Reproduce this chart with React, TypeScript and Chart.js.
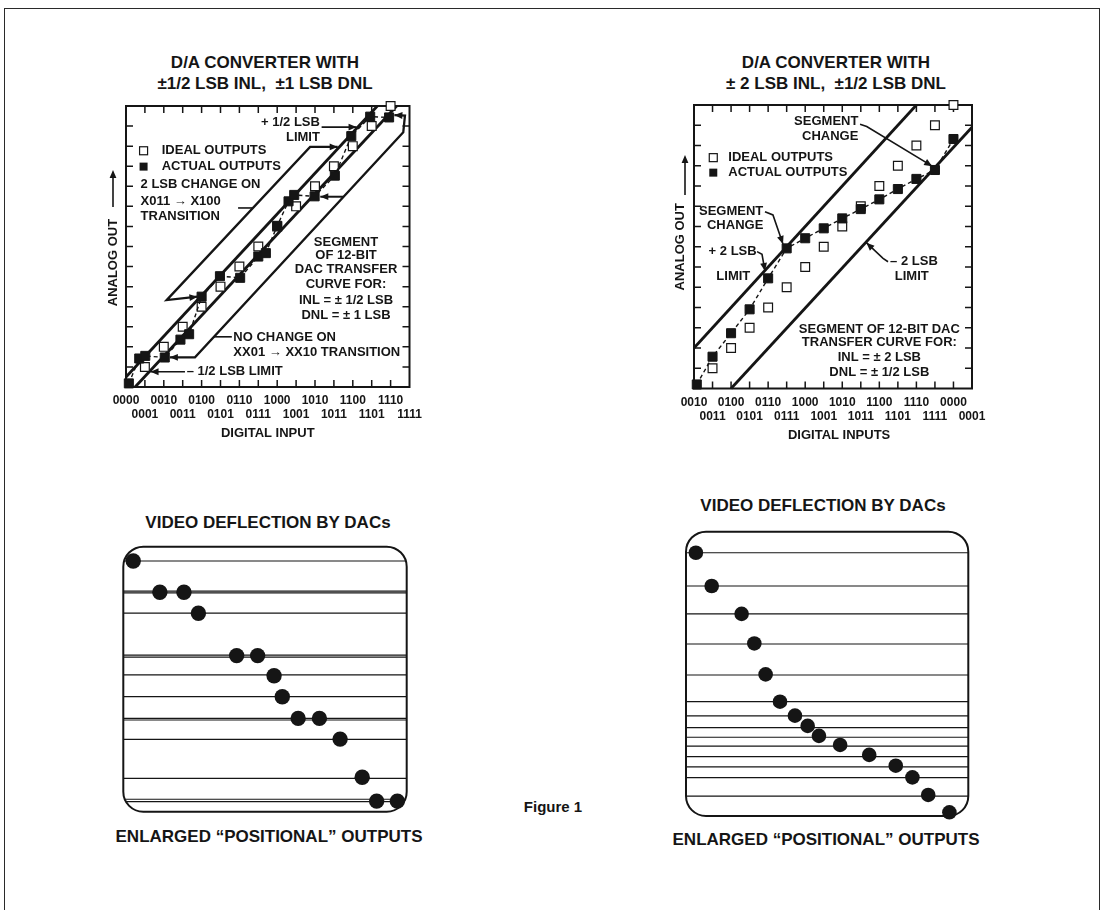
import React, { useEffect, useRef } from "react";
import { Chart, registerables } from "chart.js";

Chart.register(...registerables);

const W = 1106;
const H = 910;
const FONT = '"Liberation Sans", Arial, Helvetica, sans-serif';
const INK = "#151515";

// ===== Panel A: D/A converter with ±1/2 LSB INL, ±1 LSB DNL =====
const aCodeLabels = ["0000", "0001", "0010", "0011", "0100", "0101", "0110", "0111", "1000", "1001", "1010", "1011", "1100", "1101", "1110", "1111"];
const aIdealCodes = [1, 2, 3, 4, 5, 6, 7, 8, 9, 10, 11, 12, 13, 14];
const aIdealOut = [1, 2, 3, 4, 5, 6, 7, 8, 9, 10, 11, 12, 13, 14];
const aActualCodes = [0.15, 0.7, 1.02, 2.05, 2.88, 3.34, 4.0, 4.97, 6.04, 7.0, 7.4, 8.0, 8.6, 8.9, 9.98, 11.05, 11.92, 12.92, 13.92];
const aActualOut = [0.18, 1.42, 1.55, 1.47, 2.36, 2.63, 4.5, 5.52, 5.44, 6.5, 6.67, 8.03, 9.25, 9.57, 9.5, 10.53, 12.5, 13.47, 13.43];
const aPlusLimitCodes = [0, 13.3];
const aPlusLimitOut = [0.5, 14];
const aMinusLimitCodes = [0.48, 14.32];
const aMinusLimitOut = [0, 14];
const aTwoLsbCodes = [3.78, 2.15, 9.74, 11.2];
const aTwoLsbOut = [4.5, 4.33, 11.96, 11.96];
const aNoChangeCodes = [2.32, 3.65, 14.67, 14.76, 14.2];
const aNoChangeOut = [1.48, 1.48, 12.69, 13.52, 13.55];

// ===== Panel B: D/A converter with ±2 LSB INL, ±1/2 LSB DNL =====
const bCodeLabels = ["0010", "0011", "0100", "0101", "0110", "0111", "1000", "1001", "1010", "1011", "1100", "1101", "1110", "1111", "0000", "0001"];
const bIdealCodes = [3, 4, 5, 6, 7, 8, 9, 10, 11, 12, 13, 14, 15, 16];
const bIdealOut = [1, 2, 3, 4, 5, 6, 7, 8, 9, 10, 11, 12, 13, 14];
const bActualCodes = [2.15, 3, 4, 5, 6, 7, 8, 9, 10, 11, 12, 13, 14, 15, 16];
const bActualOut = [0.2, 1.57, 2.73, 3.91, 5.44, 6.92, 7.42, 7.91, 8.4, 8.86, 9.34, 9.85, 10.35, 10.79, 12.32];
const bPlusLimitCodes = [2, 14];
const bPlusLimitOut = [2, 14];
const bMinusLimitCodes = [4, 17];
const bMinusLimitOut = [0, 12.9];

// ===== Panel C / D: video deflection (percent of screen width / height) =====
const cBallX = [3.5, 12.9, 21.4, 26.5, 40.0, 47.4, 53.2, 56.1, 61.7, 69.2, 76.5, 84.3, 89.4, 96.7];
const cBallY = [94.6, 82.8, 82.8, 74.9, 58.9, 58.9, 51.3, 43.4, 35.2, 35.2, 27.4, 13.0, 4.0, 4.0];
const cScanLines = [94.6, 83.2, 82.6, 74.9, 59.1, 58.3, 51.6, 43.4, 35.2, 34.6, 27.3, 12.6, 4.7, 3.8];
const dBallX = [3.5, 9.1, 19.7, 24.2, 28.2, 33.3, 38.6, 43.1, 47.1, 54.6, 64.9, 74.3, 80.2, 85.8, 93.3];
const dBallY = [92.6, 80.9, 71.1, 60.7, 49.8, 40.2, 35.3, 31.7, 28.2, 25.0, 21.5, 17.7, 13.6, 7.4, 1.3];
const dScanLines = [92.6, 80.9, 71.1, 60.5, 49.6, 40.2, 35.2, 31.1, 27.7, 24.6, 20.9, 17.3, 13.5, 7.0];

type Note = { t: string; x: number; y: number; a?: CanvasTextAlign };
type Lead = { xs: number[]; ys: number[]; head?: boolean; w?: number };

const aNotes: Note[] = [
  { t: "+ 1/2 LSB", x: 10.26, y: 13.18, a: "right" },
  { t: "LIMIT", x: 10.26, y: 12.44, a: "right" },
  { t: "IDEAL OUTPUTS", x: 1.89, y: 11.77 },
  { t: "ACTUAL OUTPUTS", x: 1.89, y: 10.98 },
  { t: "2 LSB CHANGE ON", x: 0.77, y: 10.11 },
  { t: "X011 → X100", x: 0.77, y: 9.27 },
  { t: "TRANSITION", x: 0.77, y: 8.52 },
  { t: "SEGMENT", x: 11.64, y: 7.22, a: "center" },
  { t: "OF 12-BIT", x: 11.64, y: 6.55, a: "center" },
  { t: "DAC TRANSFER", x: 11.64, y: 5.88, a: "center" },
  { t: "CURVE FOR:", x: 11.64, y: 5.11, a: "center" },
  { t: "INL = ± 1/2 LSB", x: 11.64, y: 4.33, a: "center" },
  { t: "DNL = ± 1 LSB", x: 11.64, y: 3.59, a: "center" },
  { t: "NO CHANGE ON", x: 5.68, y: 2.48 },
  { t: "XX01 → XX10 TRANSITION", x: 5.68, y: 1.74 },
  { t: "– 1/2 LSB LIMIT", x: 3.21, y: 0.76 },
];
const aLeads: Lead[] = [
  { xs: [10.35, 12.2], ys: [12.95, 12.95], head: true, w: 1.6 },
  { xs: [3.12, 1.3], ys: [0.76, 0.76], head: true, w: 1.6 },
  { xs: [5.93, 6.72], ys: [8.92, 8.92], w: 1.6 },
  { xs: [4.65, 5.6], ys: [2.5, 2.5], w: 1.6 },
  { xs: [11.51, 10.28], ys: [9.48, 9.48], head: true, w: 2 },
];

const bNotes: Note[] = [
  { t: "IDEAL OUTPUTS", x: 3.85, y: 11.4 },
  { t: "ACTUAL OUTPUTS", x: 3.85, y: 10.66 },
  { t: "SEGMENT", x: 10.87, y: 13.18, a: "right" },
  { t: "CHANGE", x: 10.87, y: 12.43, a: "right" },
  { t: "SEGMENT", x: 5.74, y: 8.73, a: "right" },
  { t: "CHANGE", x: 5.74, y: 8.04, a: "right" },
  { t: "+ 2 LSB", x: 5.38, y: 6.76, a: "right" },
  { t: "LIMIT", x: 4.12, y: 5.52, a: "center" },
  { t: "– 2 LSB", x: 12.58, y: 6.26 },
  { t: "LIMIT", x: 13.75, y: 5.52, a: "center" },
  { t: "SEGMENT OF 12-BIT DAC", x: 12.0, y: 2.92, a: "center" },
  { t: "TRANSFER CURVE FOR:", x: 12.0, y: 2.26, a: "center" },
  { t: "INL = ± 2 LSB", x: 12.0, y: 1.52, a: "center" },
  { t: "DNL = ± 1/2 LSB", x: 12.0, y: 0.8, a: "center" },
];
const bLeads: Lead[] = [
  { xs: [10.96, 11.32, 14.85], ys: [13.05, 12.94, 10.98], head: true, w: 1.6 },
  { xs: [5.83, 6.26, 6.8], ys: [8.73, 8.57, 7.14], head: true, w: 1.6 },
  { xs: [5.4, 5.67, 5.83], ys: [6.76, 6.63, 5.8], head: true, w: 1.6 },
  { xs: [12.47, 12.2, 11.3], ys: [6.26, 6.43, 7.2], head: true, w: 1.6 },
];

type Panel = {
  area: { l: number; t: number; r: number; b: number };
  xMin: number;
  xMax: number;
  yMax: number;
  labels: string[];
  notes: Note[];
  leads: Lead[];
  legendX: number;
  legendY: [number, number];
  yTitle: { dx: number; y: number; arrowDx: number; arrowFrom: number; arrowTo: number };
  xTitle: { t: string; x: number; dy: number };
  datasets: any[];
  bracketHeads: { xs: number[]; ys: number[]; start: boolean; end: boolean }[];
};

const pts = (xs: number[], ys: number[]) => xs.map((x, i) => ({ x, y: ys[i] }));

function lineDs(xs: number[], ys: number[], w: number) {
  return {
    data: pts(xs, ys),
    showLine: true,
    pointRadius: 0,
    borderColor: INK,
    borderWidth: w,
    fill: false,
    tension: 0,
    clip: false,
  };
}

function actualDs(xs: number[], ys: number[]) {
  return {
    data: pts(xs, ys),
    showLine: true,
    borderDash: [4, 3],
    borderColor: INK,
    borderWidth: 1.4,
    pointStyle: "rect",
    pointRadius: 6.4,
    pointBackgroundColor: INK,
    pointBorderColor: INK,
    pointBorderWidth: 1,
    clip: false,
  };
}

function idealDs(xs: number[], ys: number[]) {
  return {
    data: pts(xs, ys),
    showLine: false,
    pointStyle: "rect",
    pointRadius: 6.2,
    pointBackgroundColor: "#ffffff",
    pointBorderColor: INK,
    pointBorderWidth: 1.2,
    clip: false,
  };
}

function head(ctx: CanvasRenderingContext2D, x0: number, y0: number, x1: number, y1: number) {
  const a = Math.atan2(y1 - y0, x1 - x0);
  const len = 8;
  const half = 3.4;
  ctx.beginPath();
  ctx.moveTo(x1, y1);
  ctx.lineTo(x1 - len * Math.cos(a) + half * Math.sin(a), y1 - len * Math.sin(a) - half * Math.cos(a));
  ctx.lineTo(x1 - len * Math.cos(a) - half * Math.sin(a), y1 - len * Math.sin(a) + half * Math.cos(a));
  ctx.closePath();
  ctx.fill();
}

function text(ctx: CanvasRenderingContext2D, s: string, x: number, y: number, align: CanvasTextAlign = "left", size = 13) {
  ctx.font = `bold ${size}px ${FONT}`;
  ctx.textAlign = align;
  ctx.textBaseline = "middle";
  ctx.fillStyle = INK;
  ctx.fillText(s, x, y);
}

function dacDecor(p: Panel) {
  return {
    id: "dacDecor",
    beforeDatasetsDraw(chart: any) {
      const { ctx, chartArea: a } = chart;
      const xs = chart.scales.x;
      const ys = chart.scales.y;
      ctx.save();
      ctx.strokeStyle = INK;
      ctx.lineWidth = 2;
      ctx.strokeRect(a.left, a.top, a.right - a.left, a.bottom - a.top);
      ctx.lineWidth = 1.5;
      const tl = 7;
      for (let v = p.xMin + 1; v < p.xMax; v++) {
        const x = xs.getPixelForValue(v);
        ctx.beginPath();
        ctx.moveTo(x, a.top);
        ctx.lineTo(x, a.top + tl);
        ctx.moveTo(x, a.bottom);
        ctx.lineTo(x, a.bottom - tl);
        ctx.stroke();
      }
      for (let v = 1; v < p.yMax; v++) {
        const y = ys.getPixelForValue(v);
        ctx.beginPath();
        ctx.moveTo(a.left, y);
        ctx.lineTo(a.left + tl, y);
        ctx.moveTo(a.right, y);
        ctx.lineTo(a.right - tl, y);
        ctx.stroke();
      }
      ctx.restore();
    },
    afterDatasetsDraw(chart: any) {
      const { ctx, chartArea: a } = chart;
      const xs = chart.scales.x;
      const ys = chart.scales.y;
      const X = (v: number) => xs.getPixelForValue(v);
      const Y = (v: number) => ys.getPixelForValue(v);
      ctx.save();
      ctx.fillStyle = INK;
      ctx.strokeStyle = INK;
      // bracket arrow heads
      for (const b of p.bracketHeads) {
        const n = b.xs.length;
        if (b.start) head(ctx, X(b.xs[1]), Y(b.ys[1]), X(b.xs[0]), Y(b.ys[0]));
        if (b.end) head(ctx, X(b.xs[n - 2]), Y(b.ys[n - 2]), X(b.xs[n - 1]), Y(b.ys[n - 1]));
      }
      // leader lines
      for (const l of p.leads) {
        ctx.lineWidth = l.w || 1.5;
        ctx.beginPath();
        l.xs.forEach((x, i) => (i === 0 ? ctx.moveTo(X(x), Y(l.ys[i])) : ctx.lineTo(X(x), Y(l.ys[i]))));
        ctx.stroke();
        const n = l.xs.length;
        if (l.head) head(ctx, X(l.xs[n - 2]), Y(l.ys[n - 2]), X(l.xs[n - 1]), Y(l.ys[n - 1]));
      }
      // legend squares
      const s = 8;
      const lx = X(p.legendX);
      const ly0 = Y(p.legendY[0]);
      const ly1 = Y(p.legendY[1]);
      ctx.fillStyle = "#fff";
      ctx.fillRect(lx - s / 2, ly0 - s / 2, s, s);
      ctx.lineWidth = 1.2;
      ctx.strokeRect(lx - s / 2, ly0 - s / 2, s, s);
      ctx.fillStyle = INK;
      ctx.fillRect(lx - s / 2, ly1 - s / 2, s, s);
      // notes
      for (const n of p.notes) text(ctx, n.t, X(n.x), Y(n.y), n.a || "left", 13);
      // tick labels, two staggered rows
      p.labels.forEach((lab, i) => {
        text(ctx, lab, X(p.xMin + i), a.bottom + (i % 2 === 0 ? 14 : 28), "center", 12);
      });
      // axis titles
      text(ctx, p.xTitle.t, X(p.xTitle.x), a.bottom + p.xTitle.dy, "center", 13);
      ctx.save();
      ctx.translate(a.left + p.yTitle.dx, Y(p.yTitle.y));
      ctx.rotate(-Math.PI / 2);
      text(ctx, "ANALOG OUT", 0, 0, "center", 13);
      ctx.restore();
      const ax = a.left + p.yTitle.arrowDx;
      ctx.lineWidth = 1.6;
      ctx.beginPath();
      ctx.moveTo(ax, Y(p.yTitle.arrowFrom));
      ctx.lineTo(ax, Y(p.yTitle.arrowTo) + 4);
      ctx.stroke();
      head(ctx, ax, Y(p.yTitle.arrowFrom), ax, Y(p.yTitle.arrowTo));
      ctx.restore();
    },
  };
}

function dacConfig(p: Panel) {
  return {
    type: "scatter",
    data: { datasets: p.datasets },
    options: {
      animation: false,
      responsive: false,
      devicePixelRatio: 1,
      events: [],
      layout: { padding: { left: p.area.l, top: p.area.t, right: W - p.area.r, bottom: H - p.area.b } },
      scales: {
        x: { type: "linear", min: p.xMin, max: p.xMax, display: false },
        y: { type: "linear", min: 0, max: p.yMax, display: false },
      },
      plugins: { legend: { display: false }, tooltip: { enabled: false } },
    },
    plugins: [dacDecor(p)],
  };
}

const panelA: Panel = {
  area: { l: 126, t: 106, r: 409.5, b: 387 },
  xMin: 0,
  xMax: 15,
  yMax: 14,
  labels: aCodeLabels,
  notes: aNotes,
  leads: aLeads,
  legendX: 0.93,
  legendY: [11.77, 10.98],
  yTitle: { dx: -13, y: 6.2, arrowDx: -13, arrowFrom: 8.97, arrowTo: 10.81 },
  xTitle: { t: "DIGITAL INPUT", x: 7.5, dy: 46 },
  datasets: [
    actualDs(aActualCodes, aActualOut),
    idealDs(aIdealCodes, aIdealOut),
    lineDs(aPlusLimitCodes, aPlusLimitOut, 2.8),
    lineDs(aMinusLimitCodes, aMinusLimitOut, 2.8),
    lineDs(aTwoLsbCodes, aTwoLsbOut, 2.3),
    lineDs(aNoChangeCodes, aNoChangeOut, 2.3),
  ],
  bracketHeads: [
    { xs: aTwoLsbCodes, ys: aTwoLsbOut, start: true, end: true },
    { xs: aNoChangeCodes, ys: aNoChangeOut, start: true, end: true },
  ],
};

const panelB: Panel = {
  area: { l: 694, t: 105, r: 972, b: 388.5 },
  xMin: 2,
  xMax: 17,
  yMax: 14,
  labels: bCodeLabels,
  notes: bNotes,
  leads: bLeads,
  legendX: 3.04,
  legendY: [11.4, 10.66],
  yTitle: { dx: -14, y: 7.0, arrowDx: -9, arrowFrom: 9.56, arrowTo: 11.53 },
  xTitle: { t: "DIGITAL INPUTS", x: 9.83, dy: 46.5 },
  datasets: [
    actualDs(bActualCodes, bActualOut),
    idealDs(bIdealCodes, bIdealOut),
    lineDs(bPlusLimitCodes, bPlusLimitOut, 2.8),
    lineDs(bMinusLimitCodes, bMinusLimitOut, 2.8),
  ],
  bracketHeads: [],
};

function boxDecor(lines: number[]) {
  return {
    id: "boxDecor",
    beforeDatasetsDraw(chart: any) {
      const { ctx, chartArea: a } = chart;
      const xs = chart.scales.x;
      const ys = chart.scales.y;
      const r = 20;
      ctx.save();
      ctx.beginPath();
      ctx.roundRect(a.left, a.top, a.right - a.left, a.bottom - a.top, r);
      ctx.save();
      ctx.clip();
      ctx.strokeStyle = INK;
      ctx.lineWidth = 1.2;
      for (const v of lines) {
        const y = ys.getPixelForValue(v);
        ctx.beginPath();
        ctx.moveTo(xs.getPixelForValue(xs.min), y);
        ctx.lineTo(xs.getPixelForValue(xs.max), y);
        ctx.stroke();
      }
      ctx.restore();
      ctx.beginPath();
      ctx.roundRect(a.left, a.top, a.right - a.left, a.bottom - a.top, r);
      ctx.strokeStyle = INK;
      ctx.lineWidth = 2;
      ctx.stroke();
      ctx.restore();
    },
  };
}

function boxConfig(area: { l: number; t: number; r: number; b: number }, bx: number[], by: number[], lines: number[], radius: number) {
  return {
    type: "scatter",
    data: {
      datasets: [
        {
          data: pts(bx, by),
          pointStyle: "circle",
          pointRadius: radius,
          pointBackgroundColor: INK,
          pointBorderColor: INK,
          pointBorderWidth: 0,
          clip: false,
        },
      ],
    },
    options: {
      animation: false,
      responsive: false,
      devicePixelRatio: 1,
      events: [],
      layout: { padding: { left: area.l, top: area.t, right: W - area.r, bottom: H - area.b } },
      scales: {
        x: { type: "linear", min: 0, max: 100, display: false },
        y: { type: "linear", min: 0, max: 100, display: false },
      },
      plugins: { legend: { display: false }, tooltip: { enabled: false } },
    },
    plugins: [boxDecor(lines)],
  };
}

function ChartCanvas({ make }: { make: () => any }) {
  const ref = useRef<HTMLCanvasElement>(null);
  useEffect(() => {
    const chart = new Chart(ref.current as HTMLCanvasElement, make());
    return () => chart.destroy();
  }, []);
  return (
    <canvas
      ref={ref}
      width={W}
      height={H}
      style={{ position: "absolute", left: 0, top: 0, width: W, height: H, display: "block" }}
    />
  );
}

function Label({ x, y, size, children }: { x: number; y: number; size: number; children: React.ReactNode }) {
  return (
    <div
      style={{
        position: "absolute",
        left: x,
        top: y,
        transform: "translate(-50%, -50%)",
        fontFamily: FONT,
        fontWeight: 700,
        fontSize: size,
        lineHeight: 1,
        whiteSpace: "pre",
        color: INK,
      }}
    >
      {children}
    </div>
  );
}

export default function App() {
  return (
    <div
      style={{
        position: "absolute",
        left: 0,
        top: 0,
        width: W,
        height: H,
        overflow: "hidden",
        background: "#fff",
      }}
    >
      <div
        style={{
          position: "absolute",
          left: 4,
          top: 8,
          width: 1096,
          height: 940,
          border: "1.5px solid #2a2a2a",
          boxSizing: "border-box",
        }}
      />
      <Label x={265} y={62} size={17}>D/A CONVERTER WITH</Label>
      <Label x={265} y={83} size={17}>±1/2 LSB INL,  ±1 LSB DNL</Label>
      <Label x={836} y={62} size={17}>D/A CONVERTER WITH</Label>
      <Label x={836} y={83} size={17}>± 2 LSB INL,  ±1/2 LSB DNL</Label>
      <Label x={268} y={522} size={17}>VIDEO DEFLECTION BY DACs</Label>
      <Label x={823} y={505} size={17}>VIDEO DEFLECTION BY DACs</Label>
      <Label x={269} y={836} size={17}>ENLARGED “POSITIONAL” OUTPUTS</Label>
      <Label x={826} y={839} size={17}>ENLARGED “POSITIONAL” OUTPUTS</Label>
      <Label x={553} y={806} size={15}>Figure 1</Label>
      <ChartCanvas make={() => dacConfig(panelA)} />
      <ChartCanvas make={() => dacConfig(panelB)} />
      <ChartCanvas make={() => boxConfig({ l: 123.3, t: 546.7, r: 406.7, b: 811.7 }, cBallX, cBallY, cScanLines, 7.7)} />
      <ChartCanvas make={() => boxConfig({ l: 686, t: 531.7, r: 968.3, b: 816 }, dBallX, dBallY, dScanLines, 7.3)} />
    </div>
  );
}
